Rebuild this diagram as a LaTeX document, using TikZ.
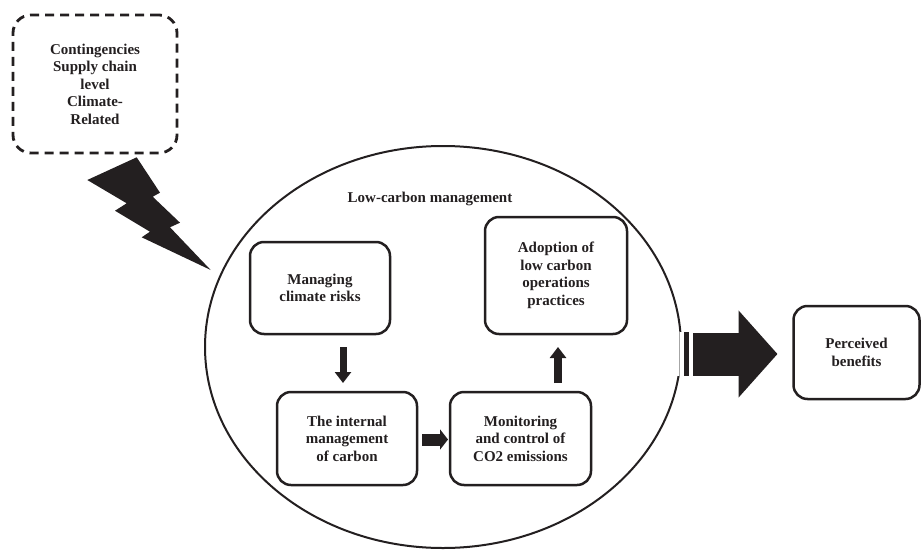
\documentclass[tikz,border=0pt]{standalone}
\usepackage{fontspec}
\setmainfont{Liberation Serif}
\usetikzlibrary{shapes.geometric,arrows.meta,calc}
\definecolor{ink}{HTML}{231F20}
\begin{document}
\begin{tikzpicture}[x=1pt,y=-1pt,
  txt/.style={font=\bfseries\fontsize{15}{17.5}\selectfont, text=ink, align=center},
  box/.style={txt, draw=ink, line width=2.5pt, rounded corners=14pt, inner sep=0pt, outer sep=0pt},
  dbox/.style={txt, draw=ink, line width=2.8pt, dash pattern=on 9pt off 6pt, rounded corners=18pt, inner sep=0pt, outer sep=0pt},
  blk/.style={draw=none, fill=ink},
  smallarr/.style={ink, line width=#1},
]
\useasboundingbox (0,0) rectangle (921,549);
% ellipse
\node[ellipse, draw=ink, line width=2pt, minimum width=476pt, minimum height=402pt, inner sep=0pt, outer sep=0pt] (ell) at (443,347) {};
\node[txt] (lcm) at (430,199) {Low-carbon management};
% boxes
\node[dbox, minimum width=164pt, minimum height=138pt] (cont) at (95,84) {Contingencies\\Supply chain\\level\\Climate-\\Related};
\node[box, minimum width=140pt, minimum height=92pt] (mcr) at (320,288) {Managing\\climate risks};
\node[box, minimum width=142pt, minimum height=117pt] (adopt) at (556,275.5) {Adoption of\\low carbon\\operations\\practices};
\node[box, minimum width=140pt, minimum height=93pt] (int) at (347,438.5) {The internal\\management\\of carbon};
\node[box, minimum width=141pt, minimum height=93pt] (mon) at (520.5,438.5) {Monitoring\\and control of\\CO2 emissions};
\node[box, minimum width=126pt, minimum height=93pt] (perc) at (856.5,352.5) {Perceived\\benefits};
% lightning bolt
\fill[ink] (87.3,180) -- (136.7,157.3) -- (160,192.7) -- (152.7,196.7) -- (180,222.7) -- (170,227.3) -- (210.7,270) -- (141.7,237.3) -- (150,231.7) -- (115,210.7) -- (126.7,203.3) -- cycle;
% small block arrows
\draw[ink, line width=7pt, -{Triangle[length=11pt,width=16pt]}, shorten <=13pt, shorten >=9pt] ([xshift=23pt]mcr.south) -- ([xshift=-4pt]int.north);
\draw[ink, line width=12pt, -{Triangle[length=8pt,width=20pt]}, shorten <=5pt, shorten >=2pt] ([yshift=-1pt]int.east) -- ([yshift=-1pt]mon.west);
\draw[ink, line width=8pt, -{Triangle[length=11pt,width=16pt]}, shorten <=9pt, shorten >=13pt] ([xshift=37.5pt]mon.north) -- ([xshift=2pt]adopt.south);
% big arrow with striped tail
\fill[white] (675.5,332) rectangle (683,375.5);
\draw[gray!70, line width=0.6pt] (679.5,332) -- (679.5,375.5);
\fill[ink] (684,332) rectangle (688.5,375.5);
\draw[ink, line width=43pt, -{Triangle[length=39pt,width=85pt]}] ([xshift=12pt,yshift=-1.5pt]ell.east |- perc.west) -- ([xshift=-16pt,yshift=-1.5pt]perc.west);
\end{tikzpicture}
\end{document}
